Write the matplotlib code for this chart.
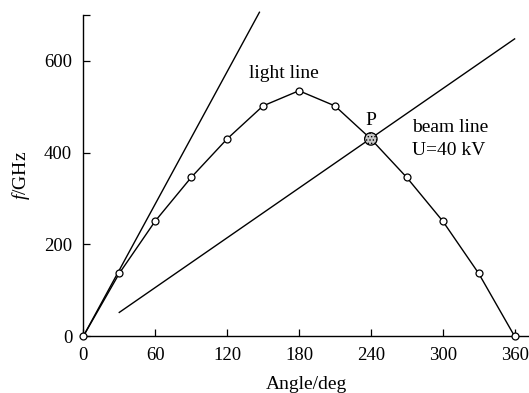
import matplotlib
matplotlib.use("Agg")
import matplotlib.pyplot as plt

plt.rcParams['font.family'] = ['Liberation Serif', 'DejaVu Serif']
plt.rcParams['mathtext.fontset'] = 'custom'
plt.rcParams['mathtext.it'] = 'Liberation Serif:italic'
plt.rcParams['mathtext.rm'] = 'Liberation Serif'
plt.rcParams['hatch.linewidth'] = 0.6

# dispersion curve
angle = [0, 30, 60, 90, 120, 150, 180, 210, 240, 270, 300, 330, 360]
freq = [0, 137, 251, 346, 430, 502, 535, 502, 430, 346, 251, 137, 0]

# straight lines (start / end)
light_x = [0, 147]
light_y = [0, 706]
beam_x = [30, 360]
beam_y = [52, 648]

# crossing point P
p_angle = 240
p_freq = 430

xticks = [0, 60, 120, 180, 240, 300, 360]
yticks = [0, 200, 400, 600, 700]
yticklabels = ['0', '200', '400', '600', '']

fig = plt.figure(figsize=(5.29, 3.93), dpi=100)
ax = fig.add_axes([0.1575, 0.1443, 0.8425, 0.8175])

ax.plot(light_x, light_y, color='black', lw=1.0, clip_on=False)
ax.plot(beam_x, beam_y, color='black', lw=1.0)
ax.plot(angle, freq, color='black', lw=1.0, marker='o', markersize=5,
        markerfacecolor='white', markeredgecolor='black', markeredgewidth=0.9,
        clip_on=False, zorder=3)
ax.scatter([p_angle], [p_freq], s=80, facecolor='#c8c8c8', edgecolor='black',
           hatch='.....', linewidth=0.9, zorder=4)

ax.text(167, 572, 'light line', fontsize=14, ha='center', va='center')
ax.text(240, 470, 'P', fontsize=14, ha='center', va='center')
ax.text(274, 456, 'beam line', fontsize=14, ha='left', va='center')
ax.text(274, 405, 'U=40 kV', fontsize=14, ha='left', va='center')

ax.set_xlim(0, 372)
ax.set_ylim(0, 700)
ax.set_xticks(xticks)
ax.set_yticks(yticks)
ax.set_yticklabels(yticklabels)
ax.tick_params(direction='in', length=5, width=0.9, labelsize=13.5, pad=8)

ax.spines['top'].set_visible(False)
ax.spines['right'].set_visible(False)
for s in ['left', 'bottom']:
    ax.spines[s].set_linewidth(1.0)

ax.set_xlabel('Angle/deg', fontsize=14, labelpad=8)
ax.set_ylabel(r'$f$/GHz', fontsize=14, labelpad=9)

fig.savefig('out.png', dpi=100)
